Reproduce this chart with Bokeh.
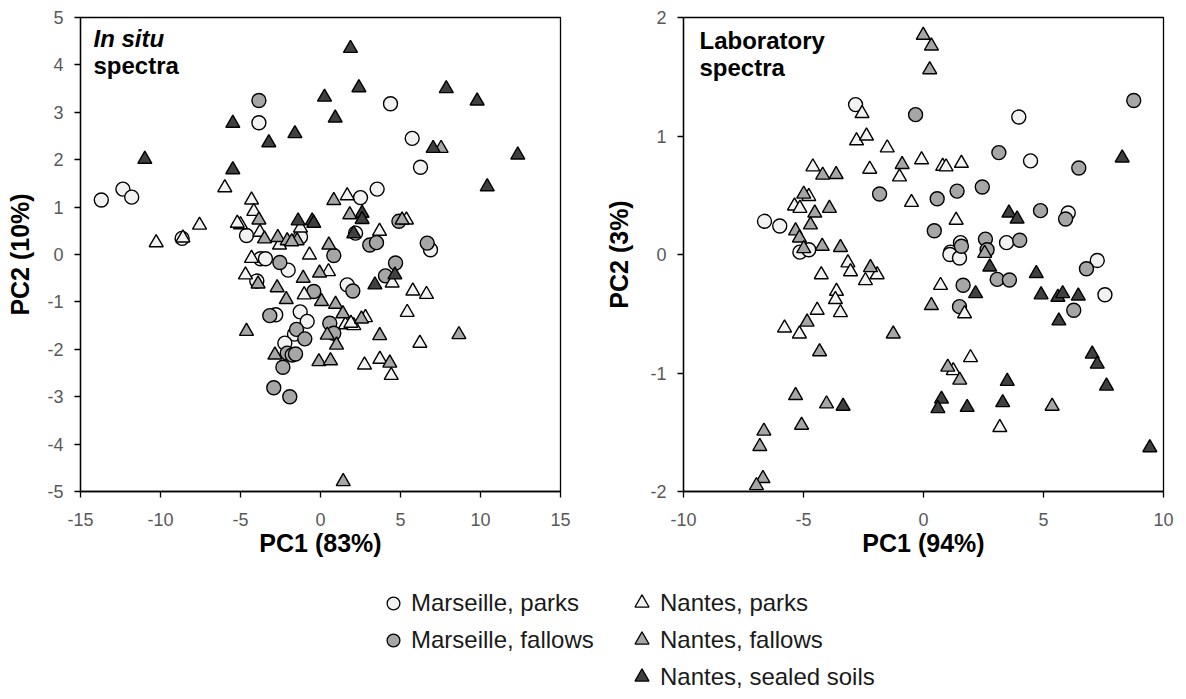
from bokeh.plotting import figure
from bokeh.models import FixedTicker, Label, Legend, LegendItem, Range1d
from bokeh.layouts import column, row
from bokeh.embed import file_html
from bokeh.resources import INLINE

FONT = "Liberation Sans"

# ---------------- data ----------------
groups = ["Marseille, parks", "Marseille, fallows", "Nantes, parks",
          "Nantes, fallows", "Nantes, sealed soils"]

insitu_x_ticks = [-15, -10, -5, 0, 5, 10, 15]
insitu_y_ticks = [-5, -4, -3, -2, -1, 0, 1, 2, 3, 4, 5]
lab_x_ticks = [-10, -5, 0, 5, 10]
lab_y_ticks = [-2, -1, 0, 1, 2]

# In situ spectra (left panel)
insitu_mp_x = [-13.7, -12.35, -11.8, -8.65, -3.85, 4.375, 5.73, 6.25, 3.54, 2.5, 2.19, 6.875,
               -4.625, -1.25, -3.75, -3.44, -2.02, -3.98, 1.67, -2.8, -1.27, -0.83, -1.625, -2.23]
insitu_mp_y = [1.15, 1.38, 1.21, 0.34, 2.78, 3.18, 2.45, 1.84, 1.38, 1.2, 0.45, 0.1,
               0.4, 0.37, -0.09, -0.09, -0.33, -0.56, -0.64, -1.27, -1.21, -1.41, -1.68, -1.87]

insitu_mf_x = [-3.85, 3.08, 3.5, 6.67, 4.9, 0.83, -2.54, 4.06, 4.69, 2.02, -0.42, -3.17,
               -1.5, -0.98, 0.58, 0.83, -2.08, -1.77, -1.56, -2.35, -2.92, -1.92]
insitu_mf_y = [3.25, 0.2, 0.25, 0.24, 0.7, -0.02, -0.17, -0.45, -0.18, -0.77, -0.78, -1.29,
               -1.58, -1.78, -1.45, -1.66, -2.08, -2.12, -2.1, -2.38, -2.81, -3.0]

insitu_np_x = [-10.27, -8.6, -7.56, -5.98, -4.31, -4.17, -5.0, -5.2, -3.79, -1.25, -2.56, 1.67,
               5.37, 3.69, -4.31, -0.69, -4.69, 0.5, -1.02, 4.48, 5.77, 6.625, 5.42, 6.21,
               1.56, 2.08, 2.81, 2.75, 3.71, 4.42, 1.9]
insitu_np_y = [0.25, 0.35, 0.62, 1.41, 1.15, 0.91, 0.63, 0.66, 0.47, 0.56, 0.2, 1.24,
               0.73, 0.49, -0.08, -0.01, -0.43, -0.36, -0.85, -0.6, -0.77, -0.84, -1.22, -1.87,
               -1.48, -1.5, -1.33, -2.33, -2.21, -2.55, -1.45]

insitu_nf_x = [7.54, 0.83, 1.83, 5.1, -3.85, -3.5, -2.67, -2.08, -1.46, -1.8, 0.52, -3.9,
               -2.71, -2.14, -1.08, -0.06, 0.06, 0.94, 1.4, 2.56, 0.42, 1.0, 3.7, -4.625,
               8.65, 4.33, -0.1, 0.625, -2.85, 1.42]
insitu_nf_y = [2.24, 1.14, 0.84, 0.73, 0.73, 0.33, 0.36, 0.29, 0.29, 0.27, 0.2, -0.62,
               -0.7, -0.95, -0.5, -0.39, -0.99, -1.05, -1.25, -1.36, -1.7, -1.91, -1.71, -1.62,
               -1.69, -2.29, -2.26, -2.24, -2.12, -4.79]

insitu_ns_x = [-10.98, -5.48, -5.48, -3.23, -1.6, 1.875, 2.4, 0.25, 0.92, 7.86, 9.79, 7.04,
               12.33, 10.42, -1.4, -0.52, -0.42, 2.6, 2.6, 2.08, 3.4, 4.65]
insitu_ns_y = [2.01, 1.79, 2.77, 2.36, 2.55, 4.35, 3.52, 3.32, 2.88, 3.5, 3.24, 2.24,
               2.1, 1.43, 0.71, 0.71, 0.66, 0.87, 0.74, 0.44, -0.64, -0.43]

# Laboratory spectra (right panel)
lab_mp_x = [-2.83, 3.97, 4.46, -6.625, -5.99, -5.15, -4.78, 6.03, 1.125, 1.54, 3.46, 7.24,
            1.1, 1.5, 7.56]
lab_mp_y = [1.265, 1.16, 0.79, 0.28, 0.24, 0.02, 0.04, 0.35, 0.02, 0.1, 0.1, -0.05,
            0.0, -0.03, -0.34]

lab_mf_x = [-1.83, -0.33, 8.76, 3.14, 6.47, 0.57, 1.4, 2.45, 0.45, 4.875, 5.92, 1.58,
            2.58, 4.01, 2.65, 3.07, 3.58, 1.65, 1.5, 6.26, 6.79]
lab_mf_y = [0.51, 1.18, 1.3, 0.86, 0.73, 0.47, 0.535, 0.57, 0.2, 0.37, 0.3, 0.07,
            0.13, 0.12, 0.04, -0.21, -0.215, -0.26, -0.44, -0.47, -0.12]

lab_np_x = [-2.56, -2.79, -2.375, -1.51, -2.24, -4.61, -4.78, -5.375, -5.15, -0.08, 0.8, 0.94,
            1.58, -1.0, -0.5, 1.36, -3.15, -3.04, -1.93, -2.42, -4.26, -3.625, -3.67, -3.46,
            -4.43, -5.79, -5.17, 0.71, 1.71, 1.96, 1.24, 3.18]
lab_np_y = [1.19, 0.96, 1.0, 0.9, 0.72, 0.74, 0.49, 0.41, 0.39, 0.8, 0.745, 0.74,
            0.77, 0.655, 0.44, 0.29, -0.07, -0.145, -0.17, -0.22, -0.17, -0.31, -0.38, -0.49,
            -0.47, -0.62, -0.67, -0.26, -0.5, -0.87, -0.98, -1.46]

lab_nf_x = [-4.2, -3.64, -4.99, -4.53, -3.92, -4.71, -5.33, -5.17, -4.99, -4.22, -3.46, -2.21,
            -4.85, -4.33, -1.26, -5.33, -4.04, -5.08, -6.65, -6.82, -6.69, -6.96, -0.01, 0.33,
            0.26, -0.89, 2.55, 0.33, 1.01, 1.51, 5.36]
lab_nf_y = [0.67, 0.675, 0.51, 0.35, 0.39, 0.25, 0.2, 0.14, 0.05, 0.07, 0.06, -0.11,
            -0.57, -0.82, -0.67, -1.19, -1.26, -1.44, -1.49, -1.62, -1.89, -1.95, 1.85, 1.76,
            1.56, 0.76, 0.01, -0.43, -0.95, -1.06, -1.28]

lab_ns_x = [-3.35, 8.28, 3.56, 3.9, 2.76, 4.7, 2.17, 4.9, 5.6, 5.8, 6.45, 5.64,
            3.49, 0.75, 0.6, 1.82, 3.3, 7.03, 7.24, 7.625, 9.43]
lab_ns_y = [-1.28, 0.815, 0.35, 0.3, -0.105, -0.16, -0.33, -0.34, -0.36, -0.33, -0.35, -0.56,
            -1.07, -1.22, -1.3, -1.29, -1.25, -0.84, -0.925, -1.11, -1.63]

# ---------------- styles ----------------
fills = ["#f2f2f2", "#a6a6a6", "#f2f2f2", "#a6a6a6", "#404040"]
markers = ["circle", "circle", "triangle", "triangle", "triangle"]


def style_axes(p, ylabel_standoff):
    for ax in list(p.xaxis) + list(p.yaxis):
        ax.axis_line_color = "black"
        ax.axis_line_width = 1.3
        ax.major_tick_line_color = "black"
        ax.major_tick_line_width = 1.3
        ax.major_tick_out = 6
        ax.major_tick_in = 0
        ax.minor_tick_line_color = None
        ax.major_label_text_font = FONT
        ax.major_label_text_font_size = "18px"
        ax.major_label_text_color = "#595959"
        ax.axis_label_text_font = FONT
        ax.axis_label_text_font_size = "25px"
        ax.axis_label_text_font_style = "bold"
        ax.axis_label_text_color = "black"
    p.xaxis.major_label_standoff = 15
    p.yaxis.major_label_standoff = 11
    p.xaxis.axis_label_standoff = 0
    p.yaxis.axis_label_standoff = ylabel_standoff
    p.xgrid.visible = False
    p.ygrid.visible = False
    p.outline_line_color = "black"
    p.outline_line_width = 1.3
    p.outline_line_alpha = 1.0


def make_panel(xs, ys, xr, yr, xt, yt, xlabel, ylabel, width, bl, br, ystand):
    p = figure(width=width, height=563, x_range=Range1d(*xr), y_range=Range1d(*yr),
               output_backend="svg", toolbar_location=None,
               min_border_left=bl, min_border_right=br, min_border_top=17, min_border_bottom=72,
               background_fill_color="white", border_fill_color="white")
    for i in range(5):
        p.scatter(xs[i], ys[i], marker=markers[i], size=14, fill_color=fills[i],
                  line_color="black", line_width=1.4)
    p.xaxis.ticker = FixedTicker(ticks=xt)
    p.yaxis.ticker = FixedTicker(ticks=yt)
    p.xaxis.major_label_overrides = {t: str(t) for t in xt}
    p.yaxis.major_label_overrides = {t: str(t) for t in yt}
    p.xaxis.axis_label = xlabel
    p.yaxis.axis_label = ylabel
    style_axes(p, ystand)
    return p


p1 = make_panel([insitu_mp_x, insitu_mf_x, insitu_np_x, insitu_nf_x, insitu_ns_x],
                [insitu_mp_y, insitu_mf_y, insitu_np_y, insitu_nf_y, insitu_ns_y],
                (-15, 15), (-5, 5), insitu_x_ticks, insitu_y_ticks,
                "PC1 (83%)", "PC2 (10%)", 600, 80, 40, 10)
p1.add_layout(Label(x=13, y=453, x_units="screen", y_units="screen", text="In situ",
                    text_font=FONT, text_font_size="24px", text_font_style="bold italic",
                    text_color="black", text_baseline="alphabetic"))
p1.add_layout(Label(x=13, y=426, x_units="screen", y_units="screen", text="spectra",
                    text_font=FONT, text_font_size="24px", text_font_style="bold",
                    text_color="black", text_baseline="alphabetic"))

p2 = make_panel([lab_mp_x, lab_mf_x, lab_np_x, lab_nf_x, lab_ns_x],
                [lab_mp_y, lab_mf_y, lab_np_y, lab_nf_y, lab_ns_y],
                (-10, 10), (-2, 2), lab_x_ticks, lab_y_ticks,
                "PC1 (94%)", "PC2 (3%)", 586, 83, 23, 14)
p2.add_layout(Label(x=16, y=451, x_units="screen", y_units="screen", text="Laboratory",
                    text_font=FONT, text_font_size="24px", text_font_style="bold",
                    text_color="black", text_baseline="alphabetic"))
p2.add_layout(Label(x=16, y=424, x_units="screen", y_units="screen", text="spectra",
                    text_font=FONT, text_font_size="24px", text_font_style="bold",
                    text_color="black", text_baseline="alphabetic"))

# ---------------- legend ----------------
p3 = figure(width=1186, height=136, x_range=Range1d(0, 1), y_range=Range1d(0, 1),
            output_backend="svg", toolbar_location=None, x_axis_type=None, y_axis_type=None,
            min_border=0, min_border_left=0, min_border_right=0, min_border_top=0,
            min_border_bottom=0, outline_line_color=None)
p3.xgrid.visible = False
p3.ygrid.visible = False
rends = []
for i in range(5):
    # a single point outside the visible range, only used as legend glyph source
    rends.append(p3.scatter(x=[-10], y=[-10], marker=markers[i], size=14, fill_color=fills[i],
                            line_color="black", line_width=1.3))

leg1 = Legend(items=[LegendItem(label=groups[i], renderers=[rends[i]]) for i in range(2)],
              location=(377, 43), orientation="vertical", glyph_width=32, glyph_height=32,
              spacing=5, padding=0, margin=0, label_standoff=2,
              border_line_color=None, background_fill_alpha=0,
              label_text_font=FONT, label_text_font_size="24px", label_text_color="#1a1a1a")
leg2 = Legend(items=[LegendItem(label=groups[i], renderers=[rends[i]]) for i in range(2, 5)],
              location=(624, 5), orientation="vertical", glyph_width=35, glyph_height=35,
              spacing=2, padding=0, margin=0, label_standoff=1,
              border_line_color=None, background_fill_alpha=0,
              label_text_font=FONT, label_text_font_size="24px", label_text_color="#1a1a1a")
p3.add_layout(leg1)
p3.add_layout(leg2)

layout = column(row(p1, p2), p3)
open("out.html", "w").write(file_html(layout, INLINE))
